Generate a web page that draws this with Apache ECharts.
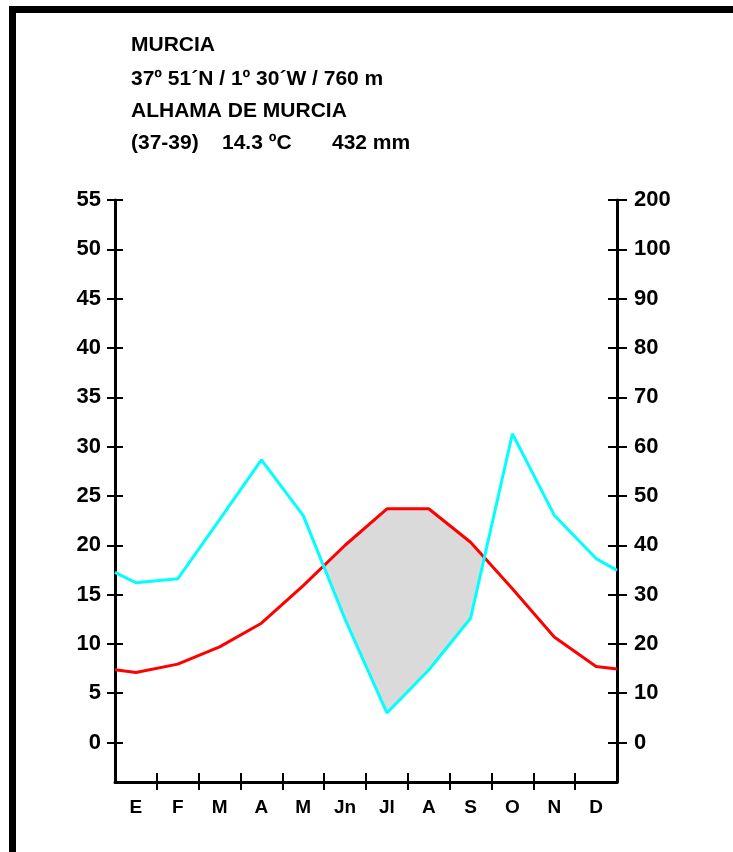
<!DOCTYPE html>
<html>
<head>
<meta charset="utf-8">
<script src="https://cdn.jsdelivr.net/npm/echarts@6/dist/echarts.min.js"></script>
<style>
html,body{margin:0;padding:0;background:#fff;}
#chart{width:733px;height:852px;}
</style>
</head>
<body>
<div id="chart"></div>
<script>
// ---- data ----
const months = ['E','F','M','A','M','Jn','Jl','A','S','O','N','D'];
const tempC = [7.1, 7.95, 9.7, 12.1, 15.9, 20.0, 23.7, 23.7, 20.3, 15.6, 10.7, 7.7];
const precipMm = [32.4, 33.2, 45.2, 57.3, 46.0, 25.0, 6.0, 14.7, 25.2, 62.6, 46.1, 37.3];
const tempEdges = [7.37, 7.45];      // values drawn at the left / right borders
const precipEdges = [34.5, 34.9];
const tempTicks = [0,5,10,15,20,25,30,35,40,45,50,55];
const precipTicks = [0,10,20,30,40,50,60,70,80,90,100,110];
const precipTickLabels = ['0','10','20','30','40','50','60','70','80','90','100','200'];
const headerLines = ['MURCIA', '37º 51´N / 1º 30´W / 760 m', 'ALHAMA DE MURCIA'];
const footerParts = ['(37-39)', '14.3 ºC', '432 mm'];

// ---- build series ----
const xs = [0].concat(months.map((m,i)=>i+0.5)).concat([12]);
const T = [tempEdges[0]].concat(tempC).concat([tempEdges[1]]);
const P = [precipEdges[0]].concat(precipMm).concat([precipEdges[1]]);
const P2 = P.map(v=>v/2);
const tempData = xs.map((x,i)=>[x,T[i]]);
const precData = xs.map((x,i)=>[x,P[i]]);

// dry-period polygons (temperature above precipitation/2)
const polys = [];
let cur = null;
for (let i=0;i<xs.length;i++){
  const d = T[i]-P2[i];
  if (i>0){
    const dp = T[i-1]-P2[i-1];
    if ((dp<=0 && d>0) || (dp>0 && d<=0)){
      const f = dp/(dp-d);
      const xi = xs[i-1]+f*(xs[i]-xs[i-1]);
      const yi = T[i-1]+f*(T[i]-T[i-1]);
      if (d>0){ cur = {top:[[xi,yi]], bot:[[xi,yi]]}; }
      else if (cur){ cur.top.push([xi,yi]); polys.push(cur); cur=null; }
    }
  }
  if (d>0){
    if (!cur) cur = {top:[],bot:[]};
    cur.top.push([xs[i],T[i]]);
    cur.bot.push([xs[i],P2[i]]);
  }
}
if (cur) polys.push(cur);

const font = 'Liberation Sans, Arial, sans-serif';
const axisLineStyle = {color:'#000', width:3};
const tickStyle = {color:'#000', width:2};
const ylabelStyle = {color:'#000', fontSize:22, fontWeight:'bold', fontFamily:font};

const chart = echarts.init(document.getElementById('chart'), null, {renderer:'canvas'});
const graphics = [
  {type:'rect', shape:{x:9,y:6,width:724,height:7}, style:{fill:'#000'}},
  {type:'rect', shape:{x:9,y:6,width:7,height:846}, style:{fill:'#000'}}
];
const lineY = [45, 79, 111];
headerLines.forEach((t,i)=>{
  graphics.push({type:'text', x:131, y:lineY[i], style:{text:t, fill:'#000', font:'bold 21px '+font, textVerticalAlign:'middle'}});
});
const footX = [131, 222, 332];
footerParts.forEach((t,i)=>{
  graphics.push({type:'text', x:footX[i], y:143, style:{text:t, fill:'#000', font:'bold 21px '+font, textVerticalAlign:'middle'}});
});

const xTickVals = [1,2,3,4,5,6,7,8,9,10,11];
const option = {
  backgroundColor:'#fff',
  animation:false,
  grid:{left:115, right:116, top:200, bottom:70, containLabel:false},
  graphic: graphics,
  xAxis:[
    {type:'category', data:months, position:'bottom', boundaryGap:true,
     axisLine:{show:true, onZero:false, lineStyle:axisLineStyle}, axisTick:{show:false},
     axisLabel:{color:'#000', fontSize:19, fontWeight:'bold', fontFamily:font, margin:16, interval:0},
     splitLine:{show:false}},
    {type:'value', min:0, max:12, position:'bottom',
     axisLine:{show:false, onZero:false}, axisLabel:{show:false}, splitLine:{show:false},
     axisTick:{show:true, inside:false, length:8, lineStyle:tickStyle, customValues:xTickVals}},
    {type:'value', min:0, max:12, position:'bottom',
     axisLine:{show:false, onZero:false}, axisLabel:{show:false}, splitLine:{show:false},
     axisTick:{show:true, inside:true, length:9, lineStyle:tickStyle, customValues:xTickVals}}
  ],
  yAxis:[
    {type:'value', min:-4, max:55, position:'left',
     axisLine:{show:true, onZero:false, lineStyle:axisLineStyle}, splitLine:{show:false},
     axisTick:{show:true, inside:false, length:8, lineStyle:tickStyle, customValues:tempTicks},
     axisLabel:Object.assign({margin:14, customValues:tempTicks}, ylabelStyle)},
    {type:'value', min:-4, max:55, position:'left',
     axisLine:{show:false, onZero:false}, splitLine:{show:false}, axisLabel:{show:false},
     axisTick:{show:true, inside:true, length:8, lineStyle:tickStyle, customValues:tempTicks}},
    {type:'value', min:-8, max:110, position:'right',
     axisLine:{show:true, onZero:false, lineStyle:axisLineStyle}, splitLine:{show:false},
     axisTick:{show:true, inside:false, length:10, lineStyle:tickStyle, customValues:precipTicks},
     axisLabel:Object.assign({margin:17, customValues:precipTicks,
       formatter:function(v){ const k = precipTicks.indexOf(v); return k>=0 ? precipTickLabels[k] : ''; }}, ylabelStyle)},
    {type:'value', min:-8, max:110, position:'right',
     axisLine:{show:false, onZero:false}, splitLine:{show:false}, axisLabel:{show:false},
     axisTick:{show:true, inside:true, length:9, lineStyle:tickStyle, customValues:precipTicks}}
  ],
  series:[
    {type:'custom', xAxisIndex:1, yAxisIndex:0, z:1, silent:true,
     data: polys.map((p,i)=>[i,0]),
     renderItem:function(params, api){
       const p = polys[params.dataIndex];
       const pts = p.top.concat(p.bot.slice().reverse()).map(q=>api.coord(q));
       return {type:'polygon', shape:{points:pts}, style:{fill:'#dadada', stroke:null}};
     }},
    {type:'line', xAxisIndex:1, yAxisIndex:0, data:tempData, symbol:'none', z:3,
     lineStyle:{color:'#ff0000', width:3}},
    {type:'line', xAxisIndex:1, yAxisIndex:2, data:precData, symbol:'none', z:4,
     lineStyle:{color:'#00ffff', width:3}}
  ]
};
chart.setOption(option);
</script>
</body>
</html>
